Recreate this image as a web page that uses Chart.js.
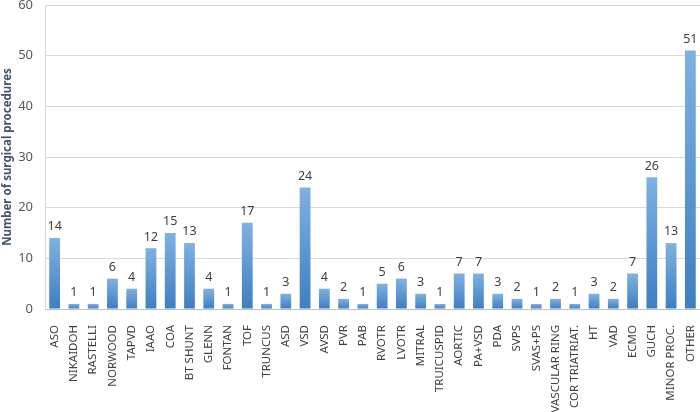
<!DOCTYPE html>
<html>
<head>
<meta charset="utf-8">
<script src="https://cdn.jsdelivr.net/npm/chart.js@4/dist/chart.umd.min.js"></script>
<style>
  html, body { margin: 0; padding: 0; background: #fff; }
  #wrap { width: 700px; height: 412px; }
</style>
</head>
<body>
<div id="wrap"><canvas id="grafic"></canvas></div>
<script>
const procediments = ["ASO", "NIKAIDOH", "RASTELLI", "NORWOOD", "TAPVD", "IAAO", "COA", "BT SHUNT",
  "GLENN", "FONTAN", "TOF", "TRUNCUS", "ASD", "VSD", "AVSD", "PVR", "PAB", "RVOTR", "LVOTR",
  "MITRAL", "TRUICUSPID", "AORTIC", "PA+VSD", "PDA", "SVPS", "SVAS+PS", "VASCULAR RING",
  "COR TRIATRIAT.", "HT", "VAD", "ECMO", "GUCH", "MINOR PROC.", "OTHER"];
const nombre = [14, 1, 1, 6, 4, 12, 15, 13, 4, 1, 17, 1, 3, 24, 4, 2, 1, 5, 6, 3, 1, 7, 7, 3, 2,
  1, 2, 1, 3, 2, 7, 26, 13, 51];
const ticksY = [0, 10, 20, 30, 40, 50, 60];

// ---------- Etiquetes sobre les barres ----------
const etiquetes = {
  id: "etiquetes",
  afterDatasetsDraw(chart) {
    const ctx = chart.ctx;
    const meta = chart.getDatasetMeta(0);
    ctx.save();
    ctx.font = "12.5px 'Noto Sans'";
    ctx.fillStyle = "#404040";
    ctx.textAlign = "center";
    ctx.textBaseline = "bottom";
    meta.data.forEach((barra, i) => {
      ctx.fillText(nombre[i], barra.x, barra.y - 5);
    });
    ctx.restore();
  }
};

// degradat per barra: clar a dalt, fosc a baix
function colorBarra(c) {
  const chart = c.chart;
  const y = chart.scales.y;
  if (!chart.chartArea || !y || c.dataIndex === undefined) return "#5b9bd5";
  const dalt = y.getPixelForValue(nombre[c.dataIndex]);
  const baix = y.getPixelForValue(0);
  const g = chart.ctx.createLinearGradient(0, dalt, 0, baix);
  g.addColorStop(0, "#7fb1e1");
  g.addColorStop(1, "#3e7ec2");
  return g;
}

new Chart(document.getElementById("grafic"), {
  type: "bar",
  data: {
    labels: procediments,
    datasets: [{
      data: nombre,
      backgroundColor: colorBarra,
      categoryPercentage: 1,
      barPercentage: 0.56
    }]
  },
  options: {
    responsive: true,
    maintainAspectRatio: false,
    animation: false,
    layout: { padding: { top: 5, right: 0, left: 1, bottom: 0 } },
    plugins: {
      legend: { display: false },
      tooltip: { enabled: false }
    },
    scales: {
      x: {
        grid: { display: false },
        border: { display: true, color: "#bfbfbf", width: 1 },
        afterFit: axis => {
          axis.height = 103;
          axis.paddingLeft = 0;
          axis.paddingRight = 0;
        },
        ticks: {
          autoSkip: false,
          minRotation: 90,
          maxRotation: 90,
          padding: 8,
          color: "#404040",
          font: { family: "'Noto Sans'", size: 11.5 }
        }
      },
      y: {
        min: 0,
        max: 60,
        afterBuildTicks: axis => {
          axis.ticks = ticksY.map(v => ({ value: v }));
        },
        afterFit: axis => {
          axis.width = 44;
          axis.paddingTop = 0;
          axis.paddingBottom = 0;
        },
        grid: { color: "#d9d9d9", drawTicks: false },
        border: { display: true, color: "#d9d9d9" },
        ticks: {
          padding: 12,
          color: "#595959",
          font: { family: "'Noto Sans'", size: 13 }
        },
        title: {
          display: true,
          text: "Number of surgical procedures",
          color: "#44546a",
          padding: { top: 0, bottom: 0 },
          font: { family: "'Noto Sans'", size: 11.5, weight: "bold" }
        }
      }
    }
  },
  plugins: [etiquetes]
});
</script>
</body>
</html>
